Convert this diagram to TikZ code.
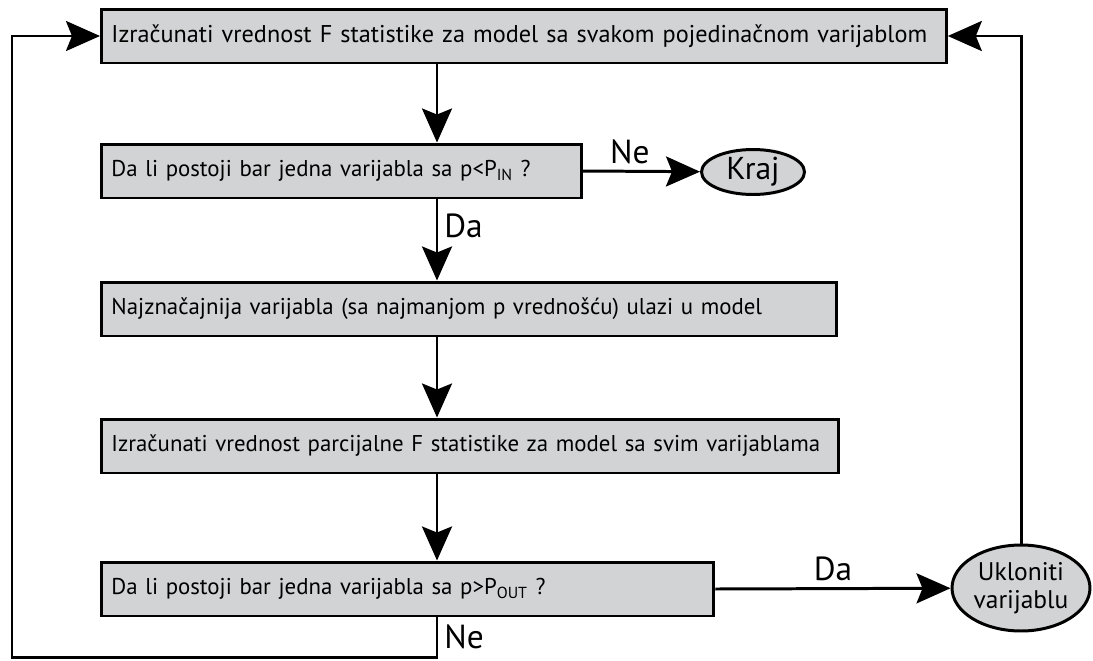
\documentclass[tikz,border=0pt]{standalone}
\usepackage{fontspec}
\setmainfont{PT Sans}
\usetikzlibrary{arrows.meta,shapes.geometric}
\definecolor{boxgray}{RGB}{209,211,212}
\tikzset{
    korak/.style={draw, line width=1.7pt, fill=boxgray, anchor=west, minimum height=1.08cm,
                  inner xsep=0.2cm, align=left, font=\fontsize{13}{15}\selectfont},
    kraj/.style={draw, ellipse, line width=1.7pt, fill=boxgray, inner sep=0pt, align=center},
    tok/.style={line width=1.7pt, -{Stealth[length=0.68cm, width=0.6cm, inset=0.12cm]}},
    oznaka/.style={font=\fontsize{19}{21}\selectfont}
}

\begin{document}
\begin{tikzpicture}[x=0.02cm, y=-0.02cm]
    \useasboundingbox (0,0) rectangle (1093,660);

    \node[korak, text width=16.5cm, font=\fontsize{13.8}{15}\selectfont] (f1) at (100,36)
        {Izračunati vrednost F statistike za model sa svakom pojedinačnom varijablom};
    \node[korak, text width=9.2cm] (uslovin) at (100,171)
        {Da li postoji bar jedna varijabla sa p<P\textsubscript{IN} ?};
    \node[korak, text width=14.3cm] (ulaz) at (100,309)
        {Najznačajnija varijabla (sa najmanjom p vrednošću) ulazi u model};
    \node[korak, text width=14.35cm] (f2) at (100,446)
        {Izračunati vrednost parcijalne F statistike za model sa svim varijablama};
    \node[korak, text width=11.85cm] (uslovout) at (100,589)
        {Da li postoji bar jedna varijabla sa p>P\textsubscript{OUT} ?};

    \node[kraj, minimum width=2.06cm, minimum height=0.9cm, font=\fontsize{18}{20}\selectfont] (kr) at (753,172) {Kraj};
    \node[kraj, minimum width=2.76cm, minimum height=1.72cm, font=\fontsize{14.5}{16}\selectfont] (ukl) at (1021,588)
        {Ukloniti\\varijablu};

    \coordinate (osa) at (437,0);
    \coordinate (dno) at (12,657);

    \draw[tok] (f1.south -| osa) -- (uslovin.north -| osa);
    \draw[tok] (uslovin.south -| osa) -- node[oznaka, right, pos=0.32] {Da} (ulaz.north -| osa);
    \draw[tok] (ulaz.south -| osa) -- (f2.north -| osa);
    \draw[tok] (f2.south -| osa) -- (uslovout.north -| osa);
    \draw[tok] (uslovin.east) -- node[oznaka, above, pos=0.4] {Ne} (kr);
    \draw[tok] (uslovout.east) -- node[oznaka, above] {Da} (ukl);
    \draw[tok] (ukl.north) |- (f1.east);
    \draw[tok] (uslovout.south -| osa) -- node[oznaka, right] {Ne} (osa |- dno) -| (dno) |- (f1.west);
\end{tikzpicture}
\end{document}
